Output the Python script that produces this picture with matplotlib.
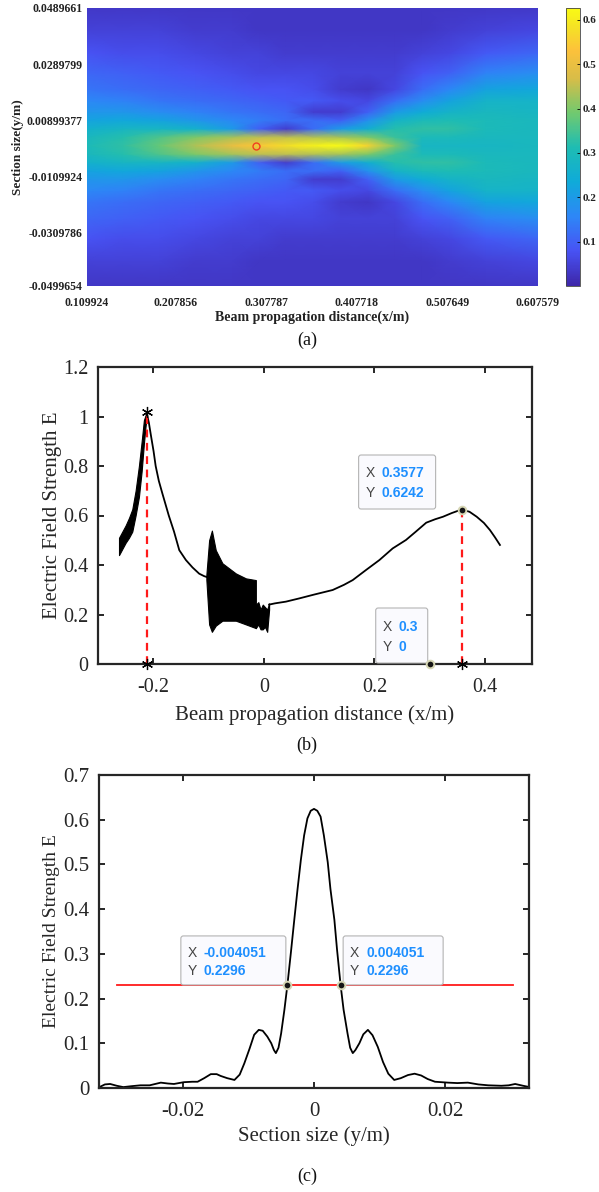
import numpy as np
import matplotlib
matplotlib.use("Agg")
from matplotlib import pyplot as plt
from matplotlib.colors import LinearSegmentedColormap
from matplotlib.patches import FancyBboxPatch
from matplotlib.transforms import ScaledTranslation

plt.rcParams['axes.unicode_minus'] = False
SERIF = ['Liberation Serif', 'DejaVu Serif']
SANS = ['Liberation Sans', 'DejaVu Sans']

# ---------------- data (a): field map, coarse grid
a_x = [0.109924, 0.15, 0.19, 0.23, 0.27, 0.30, 0.33, 0.36, 0.39, 0.42,
       0.45, 0.48, 0.51, 0.55, 0.607579]
a_yhalf = [0.0, 0.003, 0.006, 0.009, 0.012, 0.016, 0.02, 0.026, 0.033, 0.041, 0.0499654]
a_field = [
    [0.30, 0.33, 0.38, 0.44, 0.50, 0.54, 0.58, 0.61, 0.625, 0.56, 0.40, 0.28, 0.28, 0.28, 0.29],
    [0.29, 0.32, 0.36, 0.40, 0.43, 0.45, 0.45, 0.44, 0.43, 0.40, 0.34, 0.30, 0.30, 0.29, 0.29],
    [0.26, 0.28, 0.28, 0.26, 0.20, 0.10, 0.04, 0.12, 0.20, 0.25, 0.32, 0.33, 0.33, 0.30, 0.29],
    [0.22, 0.23, 0.22, 0.19, 0.16, 0.14, 0.12, 0.12, 0.10, 0.18, 0.27, 0.30, 0.31, 0.30, 0.29],
    [0.19, 0.19, 0.17, 0.15, 0.13, 0.12, 0.11, 0.04, 0.04, 0.10, 0.20, 0.24, 0.27, 0.29, 0.28],
    [0.16, 0.15, 0.13, 0.12, 0.11, 0.10, 0.09, 0.09, 0.07, 0.06, 0.12, 0.17, 0.22, 0.27, 0.27],
    [0.13, 0.12, 0.11, 0.10, 0.09, 0.08, 0.08, 0.07, 0.04, 0.03, 0.06, 0.12, 0.16, 0.22, 0.23],
    [0.11, 0.10, 0.09, 0.08, 0.07, 0.06, 0.06, 0.06, 0.05, 0.05, 0.05, 0.08, 0.10, 0.15, 0.17],
    [0.08, 0.07, 0.07, 0.06, 0.05, 0.05, 0.04, 0.04, 0.04, 0.04, 0.04, 0.05, 0.06, 0.09, 0.11],
    [0.05, 0.05, 0.05, 0.04, 0.04, 0.03, 0.03, 0.03, 0.03, 0.03, 0.03, 0.03, 0.04, 0.05, 0.06],
    [0.03, 0.03, 0.03, 0.03, 0.03, 0.03, 0.03, 0.03, 0.03, 0.03, 0.03, 0.03, 0.03, 0.03, 0.03],
]
a_spot = (0.296, 0.0)
a_xticks = [0.109924, 0.207856, 0.307787, 0.407718, 0.507649, 0.607579]
a_yticks = [-0.0499654, -0.0309786, -0.0109924, 0.00899377, 0.0289799, 0.0489661]
a_cticks = [0.1, 0.2, 0.3, 0.4, 0.5, 0.6]
a_clim = (0.0, 0.627)

# ---------------- data (b): axial profile
b_band1_x = [-0.262, -0.256, -0.25, -0.244, -0.238, -0.232, -0.226, -0.221, -0.217, -0.214, -0.212]
b_band1_lo = [0.44, 0.465, 0.49, 0.51, 0.535, 0.60, 0.675, 0.78, 0.89, 0.96, 1.0]
b_band1_hi = [0.51, 0.535, 0.56, 0.59, 0.625, 0.70, 0.80, 0.90, 0.985, 1.005, 1.015]
b_fall_x = [-0.212, -0.208, -0.204, -0.1995, -0.1957, -0.19, -0.1837, -0.172, -0.1625,
            -0.153, -0.141, -0.129, -0.117, -0.108, -0.104]
b_fall_y = [1.015, 0.975, 0.92, 0.86, 0.80, 0.74, 0.69, 0.60, 0.535,
            0.46, 0.42, 0.39, 0.365, 0.355, 0.352]
b_band2_x = [-0.104, -0.099, -0.094, -0.087, -0.075, -0.0507, -0.0325, -0.0145]
b_band2_lo = [0.34, 0.16, 0.13, 0.155, 0.175, 0.175, 0.16, 0.145]
b_band2_hi = [0.36, 0.50, 0.539, 0.46, 0.407, 0.366, 0.346, 0.339]
b_band3_x = [-0.0145, -0.01, -0.006, -0.002, 0.002, 0.006, 0.0095]
b_band3_lo = [0.145, 0.16, 0.14, 0.14, 0.15, 0.13, 0.22]
b_band3_hi = [0.24, 0.25, 0.22, 0.24, 0.23, 0.22, 0.245]
b_rise_x = [0.0095, 0.02, 0.04, 0.064, 0.09, 0.1245, 0.145, 0.1607, 0.1849, 0.209,
            0.233, 0.257, 0.275, 0.2937, 0.31, 0.324, 0.34, 0.3577, 0.372, 0.385,
            0.398, 0.409, 0.418, 0.427]
b_rise_y = [0.24, 0.245, 0.252, 0.265, 0.28, 0.299, 0.32, 0.339, 0.38, 0.42,
            0.467, 0.501, 0.535, 0.571, 0.585, 0.595, 0.61, 0.6242, 0.615, 0.595,
            0.57, 0.541, 0.512, 0.481]
b_peak1 = (-0.212, 1.02)
b_peak2 = (0.3577, 0.6242)
b_tip0 = (0.3, 0.0)

# ---------------- data (c): cross-section profile
c_x = [-0.0325, -0.0318, -0.0310, -0.0300, -0.0290, -0.0278, -0.0264, -0.0250,
       -0.0233, -0.0222, -0.0213, -0.0198, -0.0185, -0.0177, -0.0167, -0.0157,
       -0.0148, -0.0142, -0.0132, -0.0121, -0.0113, -0.0106, -0.0098, -0.0091,
       -0.0084, -0.0078, -0.0071, -0.0065, -0.0061, -0.0058, -0.0054, -0.0050,
       -0.0045, -0.004051, -0.0035, -0.0030, -0.0025, -0.0020, -0.0015, -0.0010,
       -0.0005, 0.0, 0.0005, 0.0010, 0.0015, 0.00209, 0.0025, 0.0031, 0.0035,
       0.004051, 0.0045, 0.0051, 0.0055, 0.0059, 0.0063, 0.0069, 0.0075, 0.0082,
       0.0089, 0.0097, 0.0105, 0.0113, 0.0122, 0.0132, 0.0143, 0.0153, 0.0163,
       0.0173, 0.0184, 0.0204, 0.0218, 0.0234, 0.0250, 0.0265, 0.0285, 0.0296,
       0.0306, 0.0318, 0.0328]
c_y = [0.003, 0.008, 0.009, 0.005, 0.002, 0.004, 0.006, 0.006,
       0.012, 0.010, 0.009, 0.013, 0.014, 0.014, 0.022, 0.031,
       0.031, 0.027, 0.022, 0.018, 0.030, 0.055, 0.088, 0.119,
       0.130, 0.128, 0.115, 0.100, 0.085, 0.078, 0.090, 0.122,
       0.175, 0.2296, 0.305, 0.376, 0.445, 0.510, 0.565, 0.603,
       0.620, 0.6242, 0.620, 0.607, 0.565, 0.505, 0.445, 0.376, 0.310,
       0.2296, 0.175, 0.122, 0.090, 0.078, 0.085, 0.100, 0.120, 0.130,
       0.118, 0.092, 0.058, 0.032, 0.018, 0.022, 0.029, 0.032, 0.028,
       0.020, 0.014, 0.012, 0.011, 0.012, 0.008, 0.006, 0.005, 0.006,
       0.009, 0.005, 0.002]
c_level = 0.2296
c_level_span = (-0.03, 0.0302)
c_tips = [(-0.004051, 0.2296), (0.004051, 0.2296)]

# parula-like colormap
parula = LinearSegmentedColormap.from_list("parula", [
    (0.000, (0.2422, 0.1504, 0.6603)), (0.125, (0.2810, 0.3228, 0.9579)),
    (0.250, (0.1786, 0.5289, 0.9682)), (0.375, (0.0590, 0.6700, 0.8500)),
    (0.500, (0.1200, 0.7400, 0.7000)), (0.625, (0.4500, 0.7900, 0.4300)),
    (0.750, (0.8500, 0.7400, 0.2800)), (0.850, (0.9900, 0.7600, 0.2300)),
    (0.930, (0.9600, 0.8800, 0.1500)), (1.000, (0.9769, 0.9839, 0.0805))])

W, H = 599, 1192
fig = plt.figure(figsize=(W / 100, H / 100), dpi=100)


def rect(l, r, t, b):
    return [l / W, 1 - b / H, (r - l) / W, (b - t) / H]


# ================= (a)
ax_a = fig.add_axes(rect(87, 538, 8, 286))
yh = np.array(a_yhalf)
yy = np.concatenate([-yh[::-1], yh[1:]])
zh = np.array(a_field)
zz = np.vstack([zh[::-1], zh[1:]])
mesh = ax_a.pcolormesh(a_x, yy, zz, shading='gouraud', cmap=parula,
                       vmin=a_clim[0], vmax=a_clim[1])
ax_a.plot(*a_spot, 'o', ms=5, mfc='none', mec='#f04020', mew=1)
ax_a.set_xlim(a_xticks[0], a_xticks[-1])
ax_a.set_ylim(a_yticks[0], a_yticks[-1])
ax_a.set_xticks(a_xticks)
ax_a.set_xticklabels([str(v) for v in a_xticks])
ax_a.set_yticks(a_yticks)
ax_a.set_yticklabels([str(v) for v in a_yticks])
ax_a.tick_params(length=0, labelsize=8.5, labelcolor='#222222')
ax_a.tick_params(axis='x', pad=8)
ax_a.tick_params(axis='y', pad=3)
for lab in ax_a.get_xticklabels() + ax_a.get_yticklabels():
    lab.set_fontfamily(SERIF)
    lab.set_fontweight('bold')
for s in ax_a.spines.values():
    s.set_visible(False)
ax_a.set_xlabel("Beam propagation distance(x/m)", family=SERIF, weight='bold',
                fontsize=10, labelpad=1, color='#222222')
ax_a.set_ylabel("Section size(y/m)", family=SERIF, weight='bold',
                fontsize=9.5, labelpad=2, color='#222222')

cax = fig.add_axes(rect(566, 580, 8, 286))
cb = fig.colorbar(mesh, cax=cax, ticks=a_cticks)
cb.ax.tick_params(direction='in', length=2, width=0.6, labelsize=8, pad=2,
                  labelcolor='#222222')
cb.ax.set_yticklabels([f"{v:g}" for v in a_cticks])
for lab in cb.ax.get_yticklabels():
    lab.set_fontfamily(SERIF)
    lab.set_fontweight('bold')
cb.outline.set_linewidth(0.6)
cb.outline.set_edgecolor('#444444')


def frame(ax):
    for s in ax.spines.values():
        s.set_linewidth(1.6)
        s.set_color('#262626')
    ax.tick_params(direction='in', top=True, right=True, length=4, width=1.4,
                   color='#262626', labelcolor='#262626')
    for lab in ax.get_xticklabels() + ax.get_yticklabels():
        lab.set_fontfamily(SERIF)


def datatip(ax, x, y, left, bottom, w, h, xs, ys, row1, row2, fs):
    # box and texts placed in pixel offsets from the tip point
    tr = fig.dpi_scale_trans + ScaledTranslation(x, y, ax.transData)
    box = FancyBboxPatch((left / 100, bottom / 100), w / 100, h / 100,
                         boxstyle='round,pad=0,rounding_size=0.025',
                         transform=tr, fc='#fafafe', ec='#b4b4b4', lw=0.8,
                         zorder=6, clip_on=False)
    ax.add_patch(box)
    for row, lab, val in ((row1, 'X', xs), (row2, 'Y', ys)):
        ax.text((left + 7) / 100, row / 100, lab, transform=tr, fontsize=fs,
                family=SANS, color='#444444', va='center', ha='left', zorder=7)
        ax.text((left + 23) / 100, row / 100, val, transform=tr, fontsize=fs,
                family=SANS, weight='bold', color='#1e8fff', va='center',
                ha='left', zorder=7)
    ax.plot(x, y, 'o', ms=5.5, mfc='#151515', mec='#d6d6b4', mew=1.4,
            zorder=8, clip_on=False)


# ================= (b)
ax_b = fig.add_axes(rect(98, 532, 367, 664))
ax_b.fill_between(b_band1_x, b_band1_lo, b_band1_hi, color='k', lw=0.8)
ax_b.plot(b_fall_x, b_fall_y, color='k', lw=1.3)
ax_b.fill_between(b_band2_x, b_band2_lo, b_band2_hi, color='k', lw=0.8)
ax_b.fill_between(b_band3_x, b_band3_lo, b_band3_hi, color='k', lw=0.8)
ax_b.plot(b_rise_x, b_rise_y, color='k', lw=1.3)
for px, py in (b_peak1, b_peak2):
    ax_b.plot([px, px], [0, py], color='#ff1a1a', lw=1.6, ls=(0, (3.5, 2.5)), zorder=4)
ax_b.plot([b_peak1[0], b_peak1[0], b_peak2[0]], [0, b_peak1[1], 0], ls='none',
          marker=(6, 2, 0), ms=8, color='k', mew=0.9, zorder=5, clip_on=False)
ax_b.set_xlim(-0.3, 0.485)
ax_b.set_ylim(0, 1.2)
ax_b.set_xticks([-0.2, 0, 0.2, 0.4])
ax_b.set_xticklabels(["-0.2", "0", "0.2", "0.4"])
ax_b.set_yticks([0, 0.2, 0.4, 0.6, 0.8, 1.0, 1.2])
ax_b.set_yticklabels(["0", "0.2", "0.4", "0.6", "0.8", "1", "1.2"])
ax_b.tick_params(labelsize=14.5)
ax_b.tick_params(axis='x', pad=10)
ax_b.tick_params(axis='y', pad=7)
frame(ax_b)
ax_b.set_xlabel("Beam propagation distance (x/m)", family=SERIF, fontsize=15,
                color='#262626', labelpad=6)
ax_b.set_ylabel("Electric Field Strength E", family=SERIF, fontsize=15,
                color='#262626', labelpad=1)
datatip(ax_b, *b_peak2, -103, 0.5, 77, 54, f"{b_peak2[0]:g}", f"{b_peak2[1]:g}",
        36.5, 16.5, 10)
datatip(ax_b, *b_tip0, -54, 1, 52, 55, f"{b_tip0[0]:g}", f"{b_tip0[1]:g}",
        37, 17, 10)

# ================= (c)
ax_c = fig.add_axes(rect(99, 529, 775, 1088))
ax_c.plot(c_x, c_y, color='k', lw=1.3)
ax_c.plot(c_level_span, [c_level, c_level], color='#ff1a1a', lw=1.3, zorder=3)
ax_c.set_xlim(-0.0327, 0.0327)
ax_c.set_ylim(0, 0.7)
ax_c.set_xticks([-0.02, 0, 0.02])
ax_c.set_xticklabels(["-0.02", "0", "0.02"])
ax_c.set_yticks([0, 0.1, 0.2, 0.3, 0.4, 0.5, 0.6, 0.7])
ax_c.set_yticklabels(["0", "0.1", "0.2", "0.3", "0.4", "0.5", "0.6", "0.7"])
ax_c.tick_params(labelsize=15)
ax_c.tick_params(axis='x', pad=10)
ax_c.tick_params(axis='y', pad=7)
frame(ax_c)
ax_c.set_xlabel("Section size (y/m)", family=SERIF, fontsize=15,
                color='#262626', labelpad=4)
ax_c.set_ylabel("Electric Field Strength E", family=SERIF, fontsize=14,
                color='#262626', labelpad=2)
(tx1, ty1), (tx2, ty2) = c_tips
datatip(ax_c, tx1, ty1, -106.5, 0.4, 105, 49, f"{tx1:g}", f"{ty1:g}", 32.7, 14.7, 10)
datatip(ax_c, tx2, ty2, 2.5, 0.4, 100, 49, f"{tx2:g}", f"{ty2:g}", 32.7, 14.7, 10)

# panel captions
for lab, yc in (("(a)", 340), ("(b)", 745), ("(c)", 1176)):
    fig.text(307 / W, 1 - yc / H, lab, family=SERIF, fontsize=13,
             ha='center', va='center', color='#111111')

fig.savefig("out.png", dpi=100)
